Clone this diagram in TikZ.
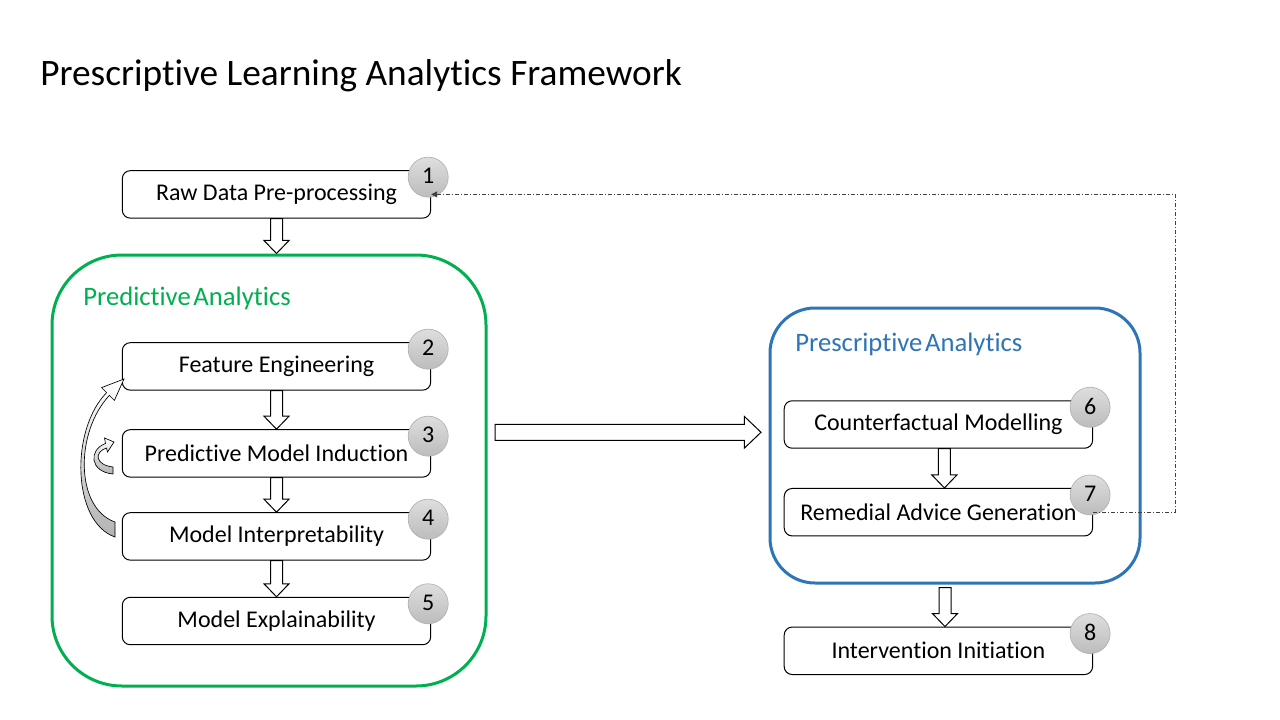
\documentclass[tikz,border=0pt]{standalone}
\usepackage{fontspec}
\setmainfont{Carlito}[Ligatures={NoCommon,NoRequired,NoContextual}]
\usetikzlibrary{calc,arrows.meta}
\definecolor{pgreen}{RGB}{0,176,80}
\definecolor{pblue}{RGB}{46,117,182}
\definecolor{badgetop}{RGB}{222,222,222}
\definecolor{badgebot}{RGB}{188,188,188}
\tikzset{
  stepbox/.style={draw=black, line width=0.75pt, rounded corners=6pt, fill=white,
    minimum width=231.3pt, minimum height=35.6pt, inner sep=0pt, font=\fontsize{18}{21}\selectfont},
  badge/.style={circle, draw=black!30, line width=0.5pt, top color=badgetop, bottom color=badgebot,
    minimum size=30pt, inner sep=0pt, font=\fontsize{18}{21}\selectfont},
  blockarrow/.style={draw=black, line width=0.75pt, fill=white, line join=miter},
  curvearrow/.style={draw=black, line width=0.5pt, top color=white, bottom color=black!30},
  groupbox/.style={line width=2.25pt, inner sep=0pt},
  grouplabel/.style={anchor=base west, inner sep=0pt, font=\fontsize{20}{24}\selectfont},
  feedback/.style={draw=black!75, line width=0.75pt, dash pattern=on 3pt off 1.5pt on 0.75pt off 1.5pt,
    -{Triangle[length=4.5pt,width=4.5pt]}}
}
\newcommand{\bdown}[2]{\draw[blockarrow] let \p1=(#1), \p2=(#2) in
  (\x1-4.5pt,\y1) -- (\x1-4.5pt,\y2+9.75pt) -- (\x1-9.4pt,\y2+9.75pt) -- (\x1,\y2)
  -- (\x1+9.4pt,\y2+9.75pt) -- (\x1+4.5pt,\y2+9.75pt) -- (\x1+4.5pt,\y1) -- cycle;}
\newcommand{\bright}[2]{\draw[blockarrow] let \p1=(#1), \p2=(#2) in
  (\x1,\y1+6pt) -- (\x2-12.5pt,\y1+6pt) -- (\x2-12.5pt,\y1+11.9pt) -- (\x2,\y1)
  -- (\x2-12.5pt,\y1-11.9pt) -- (\x2-12.5pt,\y1-6pt) -- (\x1,\y1-6pt) -- cycle;}
\begin{document}
\begin{tikzpicture}[x=0.75pt,y=-0.75pt]
\useasboundingbox (0,0) rectangle (1280,720);
\fill[white] (0,0) rectangle (1280,720);

% title
\node[anchor=base west, inner sep=0pt, font=\fontsize{28}{34}\selectfont] (title) at (40,86)
  {Prescriptive Learning Analytics Framework};

% group boxes
\node[groupbox, draw=pgreen, rounded corners=52.5pt, minimum width=325.5pt, minimum height=323.25pt] (green) at (269,470.5) {};
\node[groupbox, draw=pblue, rounded corners=33.75pt, minimum width=277.5pt, minimum height=206.25pt] (blue) at (955,445.5) {};
\node[grouplabel, text=pgreen] (glabel) at (83,305) {Predictive\hspace{0.1em}Analytics};
\node[grouplabel, text=pblue] (blabel) at (795,351) {Prescriptive\hspace{0.1em}Analytics};

% step boxes
\node[stepbox] (b1) at (276.5,194.4) {Raw Data Pre-processing};
\node[stepbox] (b2) at (276.5,366.4) {Feature Engineering};
\node[stepbox] (b3) at (276.5,453.4) {Predictive Model Induction};
\node[stepbox] (b4) at (276.5,536.4) {Model Interpretability};
\node[stepbox] (b5) at (276.5,621.0) {Model Explainability};
\node[stepbox] (b6) at (938.4,424.5) {Counterfactual Modelling};
\node[stepbox] (b7) at (938.4,512.2) {Remedial Advice Generation};
\node[stepbox] (b8) at (938.4,650.8) {Intervention Initiation};

% badges
\foreach \b/\n in {b1/1,b2/2,b3/3,b4/4,b5/5,b6/6,b7/7,b8/8}
  \node[badge] (n\n) at ($(\b.north east)+(-3,7)$) {\raisebox{1.5pt}{\n}};

% block arrows
\bdown{b1.south}{green.north}
\bdown{b2.south}{b3.north}
\bdown{b3.south}{b4.north}
\bdown{b4.south}{b5.north}
\bdown{$(b6.south)+(6,0)$}{$(b7.north)+(6,0)$}
\bdown{$(blue.south)+(-10,3)$}{$(b8.north)+(6,0)$}
\coordinate (ha) at (495,432.3);
\coordinate (hb) at (761,432.3);
\bright{ha}{hb}

% curved arrows (iteration loops)
\path[curvearrow] (115,537) .. controls (72,522) and (70,430) .. (106.6,392.6)
  -- (101.6,387.6) -- (124,379) -- (114.4,400.4) -- (109.4,395.4)
  .. controls (75,432) and (75,508) .. (115,522) -- cycle;
\path[curvearrow] (113,474) .. controls (90,472) and (88,450) .. (105.5,443.5)
  -- (104.5,438) -- (114,442) -- (107.5,452) -- (106.5,448)
  .. controls (94,452) and (95,465) .. (113,467) -- cycle;

% feedback connector
\coordinate (fbx) at (1175,300);
\draw[feedback] (b7.east) -| (fbx) |- (b1.east);
\end{tikzpicture}
\end{document}
